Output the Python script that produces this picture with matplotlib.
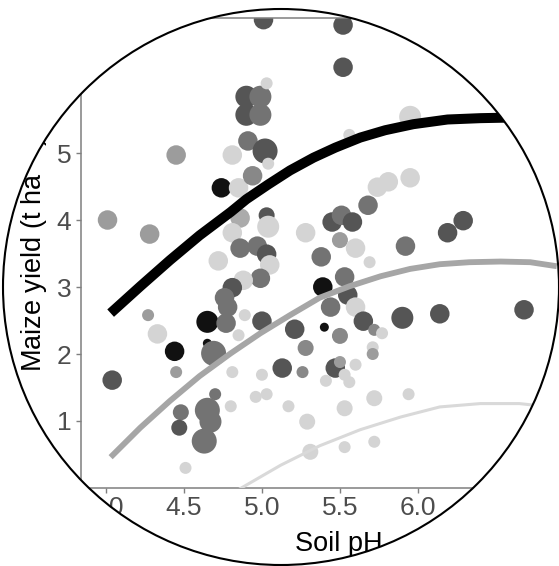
import numpy as np
import matplotlib
matplotlib.use("Agg")
import matplotlib.pyplot as plt
from matplotlib.path import Path
from matplotlib.patches import PathPatch, Circle

plt.rcParams['font.family'] = ['Liberation Sans', 'DejaVu Sans']

# ---------------- data ----------------
ph = [5.01, 5.52, 5.52, 4.90, 4.90, 4.99, 4.99, 5.03, 4.91, 5.02,
      4.45, 4.81, 5.56, 5.95, 5.74, 5.81, 5.95, 4.74, 4.85, 4.94,
      4.01, 4.28, 4.86, 5.03, 5.04, 4.81, 4.86, 4.72, 4.97, 5.03,
      5.05, 4.99, 4.88, 4.81, 4.76, 4.78, 4.89, 4.27, 4.65, 4.77,
      5.00, 4.33, 4.44, 4.65, 4.69, 4.85, 4.45, 4.04, 4.81, 4.70,
      4.80, 4.48, 4.47, 4.65, 4.67, 4.63, 4.51, 5.28, 5.45, 5.51,
      5.58, 5.68, 5.50, 5.60, 5.38, 5.69, 5.92, 6.19, 6.29, 5.53,
      5.39, 5.55, 5.44, 5.60, 5.65, 5.21, 5.40, 5.50, 5.72, 5.77,
      5.28, 5.71, 5.71, 5.13, 5.26, 5.47, 5.50, 5.60, 5.00, 5.53,
      5.56, 5.41, 4.96, 5.03, 5.72, 5.53, 5.17, 5.29, 5.31, 5.53,
      5.72, 5.94, 5.90, 6.14, 6.68, 5.04]
yield_t = [6.99, 6.91, 6.28, 5.84, 5.57, 5.84, 5.57, 6.04, 5.18, 5.03,
           4.97, 4.97, 5.27, 5.54, 4.49, 4.57, 4.63, 4.48, 4.48, 4.66,
           4.00, 3.79, 4.03, 4.07, 3.90, 3.81, 3.58, 3.39, 3.61, 3.49,
           3.33, 3.13, 3.10, 2.99, 2.84, 2.70, 2.58, 2.58, 2.48, 2.46,
           2.49, 2.30, 2.04, 2.16, 2.01, 2.28, 1.73, 1.61, 1.73, 1.40,
           1.22, 1.13, 0.90, 1.16, 0.99, 0.70, 0.30, 3.81, 3.97, 4.07,
           3.97, 4.22, 3.70, 3.58, 3.45, 3.37, 3.61, 3.81, 3.99, 3.15,
           3.00, 2.88, 2.70, 2.70, 2.49, 2.37, 2.40, 2.27, 2.36, 2.31,
           2.09, 2.10, 2.00, 1.79, 1.73, 1.79, 1.88, 1.84, 1.69, 1.69,
           1.58, 1.60, 1.36, 1.40, 1.34, 1.19, 1.22, 0.99, 0.54, 0.61,
           0.69, 1.40, 2.54, 2.60, 2.66, 4.84]
shade = ['d', 'd', 'd', 'd', 'd', 'm', 'm', 'l', 'm', 'd',
         'g', 'l', 'l', 'l', 'l', 'l', 'l', 'k', 'l', 'n',
         'g', 'g', 'a', 'd', 'l', 'l', 'm', 'l', 'm', 'd',
         'l', 'm', 'l', 'd', 'm', 'm', 'l', 'g', 'k', 'm',
         'd', 'l', 'k', 'k', 'm', 'l', 'g', 'd', 'l', 'm',
         'l', 'm', 'd', 'm', 'm', 'm', 'l', 'l', 'd', 'm',
         'd', 'm', 'g', 'l', 'm', 'l', 'm', 'd', 'd', 'm',
         'k', 'd', 'm', 'l', 'd', 'd', 'k', 'n', 'n', 'l',
         'n', 'l', 'g', 'd', 'n', 'd', 'g', 'l', 'l', 'l',
         'l', 'l', 'l', 'l', 'l', 'l', 'l', 'l', 'l', 'l',
         'l', 'l', 'd', 'd', 'd', 'l']
weight = [4, 4, 4, 5, 5, 5, 5, 2, 4, 6,
          4, 4, 2, 5, 4, 4, 4, 4, 4, 4,
          4, 4, 4, 3, 5, 4, 4, 4, 4, 4,
          4, 4, 4, 4, 4, 4, 2, 2, 5, 4,
          4, 4, 4, 1, 6, 2, 2, 4, 2, 2,
          2, 3, 3, 6, 5, 6, 2, 4, 4, 4,
          4, 4, 3, 4, 4, 2, 4, 4, 4, 4,
          4, 4, 4, 4, 4, 4, 1, 3, 2, 2,
          3, 2, 2, 4, 2, 4, 2, 2, 2, 2,
          2, 2, 2, 2, 3, 3, 2, 3, 3, 2,
          2, 2, 5, 4, 4, 2]

# fitted response curves
curve_hi_ph = [4.03, 4.22, 4.41, 4.60, 4.80, 4.90, 5.04, 5.18, 5.33, 5.47,
               5.63, 5.79, 5.97, 6.19, 6.40, 6.62]
curve_hi_y = [2.61, 3.01, 3.40, 3.77, 4.12, 4.31, 4.53, 4.74, 4.93, 5.08,
              5.23, 5.34, 5.43, 5.50, 5.52, 5.53]
curve_mid_ph = [4.03, 4.22, 4.41, 4.60, 4.80, 4.99, 5.18, 5.37, 5.56, 5.76,
                5.95, 6.14, 6.33, 6.53, 6.72, 6.89]
curve_mid_y = [0.46, 0.90, 1.30, 1.67, 2.01, 2.31, 2.58, 2.84, 3.01, 3.16,
               3.27, 3.34, 3.37, 3.38, 3.37, 3.31]
curve_lo_ph = [4.80, 4.86, 5.12, 5.37, 5.63, 5.89, 6.14, 6.40, 6.65, 6.81]
curve_lo_y = [-0.10, -0.01, 0.34, 0.63, 0.87, 1.06, 1.21, 1.26, 1.26, 1.22]

x_ticks = [4.0, 4.5, 5.0, 5.5, 6.0]
y_ticks = [1, 2, 3, 4, 5, 6]

# ---------------- styles ----------------
shade_col = {'k': '#111111', 'd': '#555555', 'm': '#737373', 'n': '#888888',
             'g': '#9c9c9c', 'a': '#ababab', 'l': '#d4d4d4'}
weight_px = {1: 9, 2: 12, 3: 16, 4: 19.5, 5: 22, 6: 25}

W, H = 559, 566
fig = plt.figure(figsize=(W / 100, H / 100), dpi=100)
ax = fig.add_axes([81 / W, (H - 488) / H, (595 - 81) / W, (488 - 18) / H])
ax.set_xlim(3.84, 7.135)
ax.set_ylim(0, 470 / 67)

cols = [shade_col[s] for s in shade]
sizes = [(weight_px[w] * 0.72) ** 2 for w in weight]
ax.scatter(ph, yield_t, s=sizes, c=cols, linewidths=0, zorder=2)

ax.plot(curve_hi_ph, curve_hi_y, color='black', lw=7.2, solid_capstyle='butt',
        solid_joinstyle='round', zorder=3)
ax.plot(curve_mid_ph, curve_mid_y, color='#a6a6a6', lw=4.2, solid_capstyle='butt',
        solid_joinstyle='round', zorder=3)
ax.plot(curve_lo_ph, curve_lo_y, color='#d9d9d9', lw=2.2, solid_capstyle='butt',
        solid_joinstyle='round', zorder=3)

ax.set_xticks(x_ticks)
ax.set_xticklabels([f"{v:.1f}" for v in x_ticks])
ax.set_yticks(y_ticks)
ax.set_yticklabels([str(v) for v in y_ticks])
ax.tick_params(axis='both', colors='#7f7f7f', length=3.6, width=1.0,
               labelsize=19, labelcolor='#4d4d4d')
ax.tick_params(axis='x', pad=2)
ax.tick_params(axis='y', pad=3.5)
for sp in ax.spines.values():
    sp.set_color('#7f7f7f')
    sp.set_linewidth(1.1)

fig.text(338.5 / W, 1 - 551 / H, 'Soil pH', fontsize=19.5, color='black',
         ha='center', va='baseline')
fig.text(42 / W, 1 - 372 / H, 'Maize yield (t ha$^{-1}$)', fontsize=19.5,
         color='black', rotation=90, rotation_mode='anchor',
         ha='left', va='baseline')

# circular magnifier mask
cx, cy, r = 2.81, (H - 287) / 100, 2.78
theta = np.linspace(0, 2 * np.pi, 361)
circ_v = np.column_stack([cx + r * np.cos(theta), cy + r * np.sin(theta)])
rect_v = np.array([(-1, -1), (-1, 8), (8, 8), (8, -1), (-1, -1)])
verts = np.vstack([rect_v, circ_v])
codes = ([Path.MOVETO] + [Path.LINETO] * 3 + [Path.CLOSEPOLY] +
         [Path.MOVETO] + [Path.LINETO] * (len(circ_v) - 2) + [Path.CLOSEPOLY])
mask = PathPatch(Path(verts, codes), facecolor='white', edgecolor='none',
                 transform=fig.dpi_scale_trans, zorder=10)
fig.add_artist(mask)
fig.add_artist(Circle((cx, cy), r, transform=fig.dpi_scale_trans, fill=False,
                      edgecolor='black', lw=1.5, zorder=11))

fig.savefig('out.png', dpi=100, facecolor='white')
